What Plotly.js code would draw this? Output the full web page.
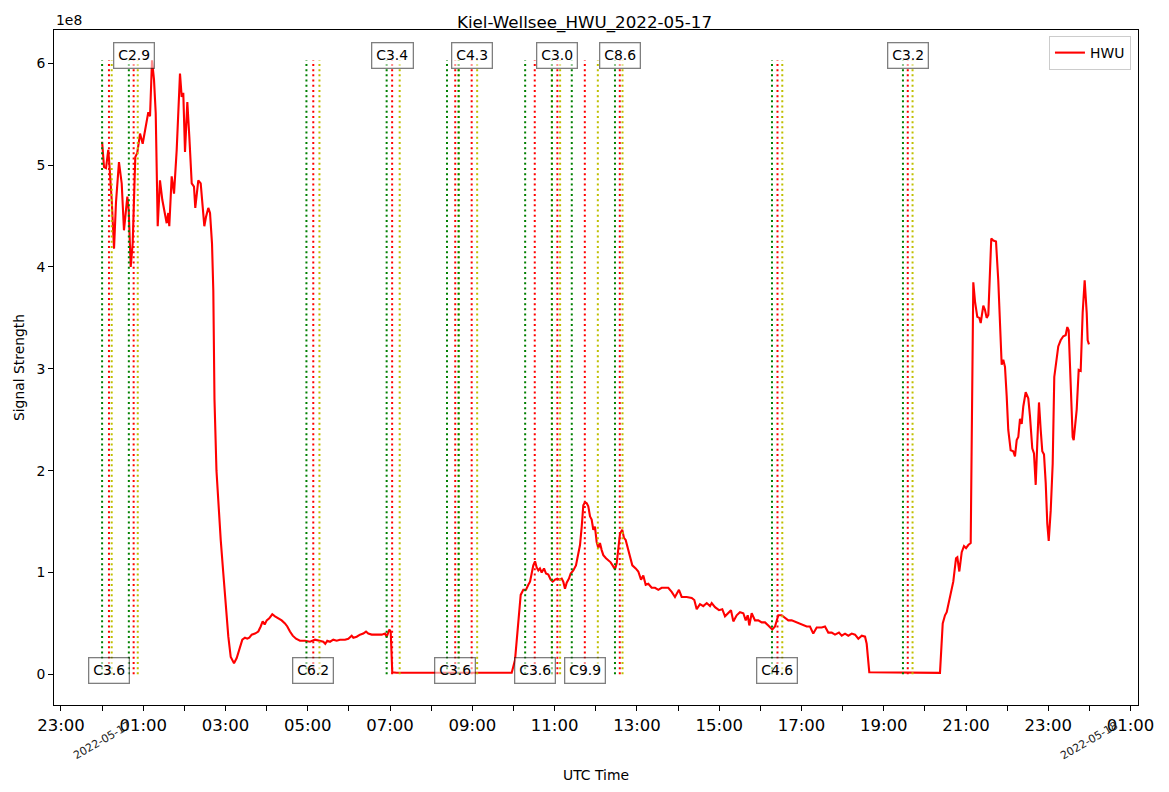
<!DOCTYPE html>
<html>
<head>
<meta charset="utf-8">
<script src="https://cdn.plot.ly/plotly-3.0.1.min.js"></script>
<style>
  html, body { margin: 0; padding: 0; background: #ffffff; }
  #chart { width: 1169px; height: 792px; }
</style>
</head>
<body>
<div id="chart"></div>
<script>
// ---- Data ----
const chartTitle = 'Kiel-Wellsee_HWU_2022-05-17';
const seriesName = 'HWU';
const dayStart = '2022-05-17';

// minutes after 2022-05-17 00:00 UTC
const minutes = [
  0, 2.8, 5.7, 9.0, 10.5, 14.0, 17.4, 20.3, 24.6, 28.6, 31.9, 36.8, 38.8, 41.7, 44.6, 48.4,
  51.3, 55.3, 59.2, 63.0, 67.4, 69.9, 72.8, 75.7, 78.2, 81.1, 84.4, 87.8, 91.7, 94.2, 96.5,
  98.0, 101.5, 104.9, 108.8, 113.6, 116.1, 118.4, 120.9, 124.3, 127.2, 130.7, 134.0, 135.9,
  140.3, 143.8, 146.7, 149.1, 151.5, 154.9, 157.4, 160.3, 162.2, 163.9, 166.8, 169.8, 173.0,
  176.8, 180.7, 184.1, 187.6, 192.4, 196.3, 200.1, 204.5, 208.4, 211.8, 214.7, 218.2, 223.0,
  227.8, 231.3, 234.2, 237.1, 240.1, 243.8, 248.2, 252.2, 257.0, 261.9, 266.7, 270.1, 274.0,
  278.0, 282.8, 288.6, 295.9, 303.2, 310.5, 317.8, 322.6, 325.5, 328.4, 332.4, 337.2, 342.1,
  346.9, 354.2, 359.1, 364.0, 366.4, 371.3, 376.1, 380.9, 384.9, 388.2, 393.2, 398.0, 402.8,
  407.8, 412.6, 415.1, 418.9, 420.9, 423.2, 429.7, 480.0, 540.0, 597.4,
  602.2, 607.0, 610.5, 614.3, 618.2, 621.6, 624.1, 626.5, 628.9, 631.4, 633.8, 636.2, 638.6,
  641.1, 644.5, 647.4, 650.8, 654.2, 657.2, 660.5, 663.9, 666.8, 670.3, 672.6, 675.1, 677.6,
  680.9, 683.4, 687.2, 691.1, 694.5, 697.0, 699.5, 701.8, 704.3, 706.8, 709.1, 711.6, 714.0,
  716.4, 718.8, 721.3, 723.7, 726.1, 728.6, 731.0, 734.9, 738.2, 741.7, 745.5, 748.0, 750.5,
  752.8, 755.3, 758.6, 761.1, 763.6, 768.4, 773.3, 778.2, 782.0, 786.0, 789.3, 792.8, 796.6,
  801.5, 806.4, 811.2, 816.1, 820.9, 825.7, 830.7, 835.5, 841.3, 845.3, 852.6, 859.9, 863.7,
  867.2, 872.0, 876.8, 881.8, 886.6, 889.1, 893.9, 899.7, 904.5, 908.5, 913.3, 917.2, 920.6,
  925.5, 930.3, 935.2, 938.7, 941.6, 943.9, 947.4, 952.2, 957.0, 962.0, 966.8, 971.6, 977.4,
  981.4, 986.2, 991.1, 996.0, 1000.8, 1005.7, 1013.0, 1020.3, 1027.6, 1032.4, 1037.2, 1042.2,
  1049.5, 1054.3, 1059.1, 1064.1, 1068.9, 1074.7, 1078.7, 1083.5, 1088.3, 1093.3, 1098.1,
  1102.9, 1107.9, 1112.7, 1115.1, 1118.9, 1163.7, 1222.0,
  1226.0, 1229.3, 1231.8, 1235.6, 1239.1, 1241.4, 1245.4, 1247.3, 1250.2, 1253.7, 1257.0,
  1260.0, 1263.3, 1266.8, 1270.6, 1273.1, 1276.4, 1279.4, 1281.4, 1285.2, 1287.6, 1290.1,
  1292.5, 1294.9, 1296.8, 1299.8, 1303.7, 1307.0, 1309.5, 1312.0, 1314.3, 1316.8, 1319.3,
  1321.6, 1325.1, 1328.9, 1331.4, 1333.9, 1336.2, 1338.7, 1341.2, 1343.5, 1347.0, 1350.8,
  1353.3, 1356.6, 1359.1, 1361.6, 1363.9, 1366.4, 1368.9, 1371.2, 1373.7, 1376.2, 1378.5,
  1380.6, 1383.5, 1386.4, 1388.7, 1391.2, 1394.5, 1398.0, 1401.8, 1405.3, 1407.7, 1409.7,
  1412.6, 1415.5, 1417.0, 1419.3, 1421.4, 1424.3, 1427.2, 1430.1, 1433.0, 1436.0, 1437.4, 1439.3
];

// signal strength in units of 1e8
const signal = [
  5.23, 4.98, 4.97, 5.15, 5.02, 4.66, 4.18, 4.64, 5.03, 4.82, 4.36, 4.69, 4.56, 4.00, 4.23, 5.08,
  5.12, 5.31, 5.21, 5.34, 5.52, 5.48, 6.03, 5.84, 5.51, 4.40, 4.85, 4.66, 4.53, 4.43, 4.53,
  4.40, 4.89, 4.72, 5.15, 5.90, 5.67, 5.71, 5.13, 5.62, 5.28, 4.82, 4.79, 4.58,
  4.85, 4.82, 4.59, 4.40, 4.49, 4.58, 4.53, 4.23, 3.77, 2.70, 2.00, 1.60, 1.32,
  0.99, 0.66, 0.37, 0.17, 0.11, 0.16, 0.24, 0.34, 0.36, 0.35, 0.36, 0.39, 0.40,
  0.42, 0.47, 0.52, 0.49, 0.53, 0.55, 0.59, 0.57, 0.55, 0.53, 0.50, 0.47, 0.42,
  0.38, 0.35, 0.33, 0.33, 0.32, 0.34, 0.33, 0.32, 0.30, 0.33, 0.32, 0.34, 0.33,
  0.34, 0.34, 0.35, 0.38, 0.36, 0.37, 0.39, 0.40, 0.42, 0.40, 0.39, 0.39, 0.39,
  0.39, 0.40, 0.37, 0.44, 0.42, 0.02, 0.015, 0.015, 0.015, 0.015,
  0.14, 0.55, 0.78, 0.83, 0.83, 0.88, 0.91, 0.99, 1.07, 1.11, 1.05, 1.02, 1.04,
  1.00, 1.04, 0.99, 0.98, 0.93, 0.91, 0.93, 0.94, 0.93, 0.94, 0.91, 0.84, 0.90,
  0.94, 0.99, 1.02, 1.07, 1.17, 1.27, 1.45, 1.66, 1.69, 1.68, 1.65, 1.55, 1.52,
  1.42, 1.45, 1.30, 1.24, 1.29, 1.22, 1.17, 1.14, 1.12, 1.10, 1.06, 1.03, 1.09,
  1.25, 1.38, 1.42, 1.34, 1.32, 1.19, 1.07, 1.04, 1.01, 0.93, 0.97, 0.88, 0.89,
  0.85, 0.85, 0.83, 0.85, 0.85, 0.85, 0.81, 0.76, 0.83, 0.76, 0.76, 0.75, 0.73,
  0.64, 0.69, 0.67, 0.70, 0.67, 0.70, 0.66, 0.63, 0.64, 0.57, 0.60, 0.63, 0.52,
  0.58, 0.61, 0.60, 0.53, 0.58, 0.48, 0.60, 0.53, 0.53, 0.51, 0.51, 0.48, 0.44,
  0.47, 0.58, 0.58, 0.55, 0.53, 0.53, 0.51, 0.49, 0.47, 0.47, 0.40, 0.46,
  0.46, 0.47, 0.41, 0.41, 0.39, 0.41, 0.38, 0.40, 0.38, 0.40, 0.39,
  0.35, 0.38, 0.37, 0.30, 0.02, 0.02, 0.015,
  0.50, 0.58, 0.61, 0.73, 0.84, 0.91, 1.14, 1.15, 1.01, 1.20, 1.26,
  1.24, 1.27, 1.29, 3.85, 3.66, 3.51, 3.50, 3.45, 3.62, 3.58, 3.50,
  3.53, 4.04, 4.28, 4.26, 4.25, 3.87, 3.45, 3.04, 3.09, 3.02, 2.73,
  2.40, 2.20, 2.19, 2.14, 2.30, 2.33, 2.51, 2.46, 2.63, 2.77, 2.71,
  2.53, 2.22, 2.17, 1.86, 2.27, 2.67, 2.40, 2.19, 2.16, 1.88, 1.48,
  1.31, 1.61, 2.07, 2.92, 3.05, 3.22, 3.28, 3.32, 3.33, 3.41, 3.38,
  2.92, 2.33, 2.30, 2.46, 2.60, 2.99, 2.98, 3.55, 3.87, 3.55, 3.28, 3.24
];

// GOES flare events (UTC, 2022-05-17)
const flareClass = ['C3.6', 'C2.9', 'C6.2', 'C3.4', 'C3.6', 'C4.3', 'C3.6', 'C3.0', 'C9.9', 'C8.6', 'C4.6', 'C3.2'];
const flareStart = ['00:00', '00:39', '04:58', '06:55', '08:23', '08:40', '10:17', '10:56', '11:25', '12:28', '16:17', '19:28'];
const flarePeak  = ['00:10', '00:46', '05:08', '07:03', '08:35', '08:59', '10:31', '11:04', '11:44', '12:35', '16:25', '19:35'];
const flareEnd   = ['00:14', '00:52', '05:17', '07:14', '08:40', '09:07', '10:56', '11:08', '12:03', '12:39', '16:32', '19:42'];

// x-axis hourly ticks (hours relative to 2022-05-17 00:00)
const tickHours = [-1, 0, 1, 2, 3, 4, 5, 6, 7, 8, 9, 10, 11, 12, 13, 14, 15, 16, 17, 18, 19, 20, 21, 22, 23, 24, 25];
const dateLabels = ['2022-05-17', '2022-05-18'];
const yTickValues = [0, 1, 2, 3, 4, 5, 6];

// ---- Helpers ----
const SCALE = 1e8;
const base = Date.UTC(2022, 4, 17, 0, 0, 0);
function fmt(ms) {
  return new Date(ms).toISOString().replace('T', ' ').slice(0, 19);
}
function minToDate(m) { return fmt(base + m * 60000); }
function hhmmToDate(s) { return dayStart + ' ' + s + ':00'; }
function hourToDate(h) { return fmt(base + h * 3600000); }
function pad2(n) { return (n < 10 ? '0' : '') + n; }

const FONT = 'DejaVu Sans, Liberation Sans, sans-serif';

const xs = minutes.map(minToDate);
const ys = signal.map(v => v * SCALE);
const vTop = Math.max.apply(null, ys);

const traces = [{
  x: xs, y: ys, type: 'scatter', mode: 'lines', name: seriesName,
  line: { color: '#ff0000', width: 2.1 },
  hoverinfo: 'x+y'
}];

const shapes = [];
const annotations = [];
const lineColors = ['#008000', '#ff0000', '#bfbf00'];
for (let i = 0; i < flareClass.length; i++) {
  const times = [flareStart[i], flarePeak[i], flareEnd[i]];
  times.forEach((t, k) => {
    shapes.push({
      type: 'line', xref: 'x', yref: 'y',
      x0: hhmmToDate(t), x1: hhmmToDate(t), y0: 0, y1: vTop,
      line: { color: lineColors[k], width: 2, dash: '2px,3.2px' }
    });
  });
  const top = (i % 2 === 1);
  annotations.push({
    xref: 'x', yref: 'y', x: hhmmToDate(flarePeak[i]),
    y: top ? 6.075 * SCALE : 0.035 * SCALE,
    text: flareClass[i], showarrow: false,
    xanchor: 'center', yanchor: 'middle',
    font: { family: FONT, size: 13.9, color: '#000' },
    bgcolor: 'rgba(255,255,255,0.55)', bordercolor: 'rgba(0,0,0,0.5)',
    borderwidth: 1.3, borderpad: 4
  });
}

// date labels under midnights
dateLabels.forEach(d => {
  annotations.push({
    xref: 'x', yref: 'paper', x: d + ' 00:00:00', y: -0.052,
    text: d, showarrow: false, textangle: -30,
    xanchor: 'center', yanchor: 'middle',
    font: { family: FONT, size: 11, color: '#222' }
  });
});

// y offset text
annotations.push({
  xref: 'paper', yref: 'paper', x: 0, y: 1.0148, xanchor: 'left', yanchor: 'middle',
  text: '1e8', showarrow: false, font: { family: FONT, size: 13.9, color: '#000' }
});

const tickvals = tickHours.map(hourToDate);
const ticktext = tickHours.map(h => {
  const hh = ((h % 24) + 24) % 24;
  return (hh % 2 === 1) ? pad2(hh) + ':00' : '';
});

const layout = {
  width: 1169, height: 792,
  paper_bgcolor: '#ffffff', plot_bgcolor: '#ffffff',
  margin: { l: 54, r: 31, t: 30, b: 87, pad: 0 },
  font: { family: FONT, color: '#000' },
  title: {
    text: chartTitle, xref: 'container', yref: 'container',
    x: 0.5, xanchor: 'center', y: 0.972, yanchor: 'middle',
    font: { family: FONT, size: 16.7, color: '#000' }
  },
  showlegend: true,
  legend: {
    x: 0.9935, y: 0.991, xanchor: 'right', yanchor: 'top',
    bgcolor: 'rgba(255,255,255,0.8)', bordercolor: '#cccccc', borderwidth: 1,
    font: { family: FONT, size: 13.9, color: '#000' }
  },
  xaxis: {
    type: 'date',
    range: [hourToDate(-1.169), hourToDate(25.18)],
    tickmode: 'array', tickvals: tickvals, ticktext: ticktext,
    ticks: 'outside', ticklen: 5, tickwidth: 1, tickcolor: '#000',
    showgrid: false, zeroline: false,
    showline: true, linecolor: '#000', linewidth: 1, mirror: true,
    tickfont: { family: FONT, size: 16.5, color: '#000' },
    title: { text: 'UTC Time', standoff: 36, font: { family: FONT, size: 13.9, color: '#000' } },
    automargin: false
  },
  yaxis: {
    range: [-0.301 * SCALE, 6.327 * SCALE],
    tickmode: 'array', tickvals: yTickValues.map(v => v * SCALE), ticktext: yTickValues.map(String),
    ticks: 'outside', ticklen: 5, tickwidth: 1, tickcolor: '#000',
    showgrid: false, zeroline: false,
    showline: true, linecolor: '#000', linewidth: 1, mirror: true,
    tickfont: { family: FONT, size: 13.9, color: '#000' },
    title: { text: 'Signal Strength', standoff: 8, font: { family: FONT, size: 13.9, color: '#000' } },
    automargin: false
  },
  shapes: shapes,
  annotations: annotations
};

Plotly.newPlot('chart', traces, layout, { displayModeBar: false, staticPlot: true });
</script>
</body>
</html>
